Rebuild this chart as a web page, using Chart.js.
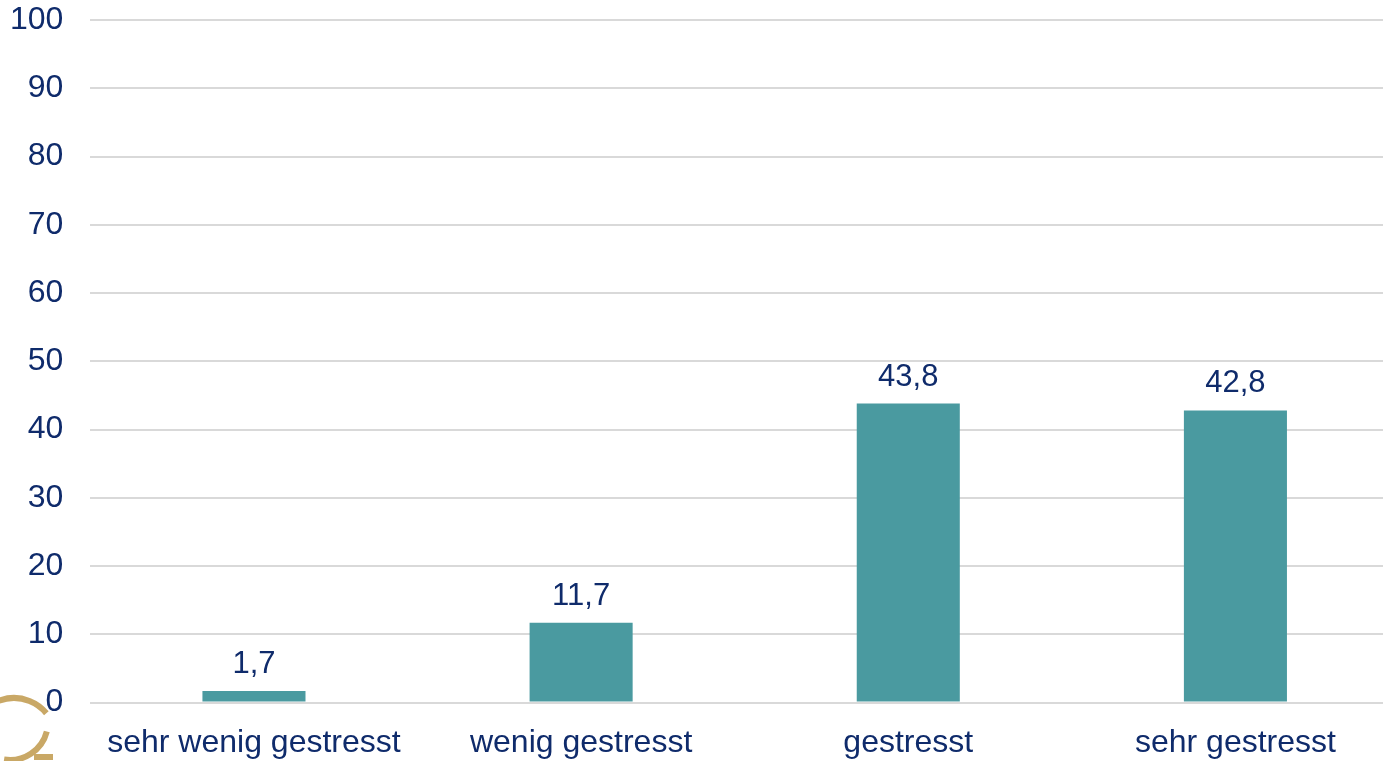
<!DOCTYPE html>
<html>
<head>
<meta charset="utf-8">
<script src="https://cdn.jsdelivr.net/npm/chart.js@4/dist/chart.umd.min.js"></script>
<style>
    html, body { margin: 0; padding: 0; background: #ffffff; overflow: hidden; }
    #frame { width: 1383px; height: 761px; overflow: hidden; }
    /* plot runs a little past the right edge of the frame */
    #wrap { width: 1399px; height: 761px; position: relative; }
</style>
</head>
<body>
<div id="frame"><div id="wrap"><canvas id="stressChart"></canvas></div></div>
<script>
// stress levels (percent of respondents)
const categories = ['sehr wenig gestresst', 'wenig gestresst', 'gestresst', 'sehr gestresst'];
const percentValues = [1.7, 11.7, 43.8, 42.8];
const yTicks = [0, 10, 20, 30, 40, 50, 60, 70, 80, 90, 100];

const NAVY = '#0f2b6b';
const TEAL = '#4a9aa0';
const FONT = "'Liberation Sans', Arial, sans-serif";

// draw the value above each bar, German decimal comma
const valueLabels = {
    id: 'valueLabels',
    afterDatasetsDraw(chart) {
        const ctx = chart.ctx;
        const meta = chart.getDatasetMeta(0);
        ctx.save();
        ctx.font = '31px ' + FONT;
        ctx.fillStyle = NAVY;
        ctx.textAlign = 'center';
        ctx.textBaseline = 'alphabetic';
        meta.data.forEach((bar, i) => {
            const txt = percentValues[i].toFixed(1).replace('.', ',');
            ctx.fillText(txt, bar.x, bar.y - 18);
        });
        ctx.restore();
    }
};

// gold corner logo fragment
const cornerLogo = {
    id: 'cornerLogo',
    beforeDraw(chart) {
        const ctx = chart.ctx;
        ctx.save();
        ctx.strokeStyle = '#c9a866';
        ctx.lineWidth = 6;
        ctx.lineCap = 'butt';
        ctx.beginPath();
        ctx.arc(14, 740, 42, Math.PI * 1.12, Math.PI * 1.78);
        ctx.stroke();
        ctx.beginPath();
        ctx.arc(10, 722, 38, Math.PI * 0.08, Math.PI * 0.55);
        ctx.stroke();
        ctx.beginPath();
        ctx.moveTo(34, 757);
        ctx.lineTo(53, 757);
        ctx.stroke();
        ctx.restore();
    }
};

new Chart(document.getElementById('stressChart'), {
    type: 'bar',
    data: {
        labels: categories,
        datasets: [{
            data: percentValues,
            backgroundColor: TEAL,
            borderWidth: 0,
            categoryPercentage: 1.0,
            barPercentage: 0.315
        }]
    },
    options: {
        responsive: true,
        maintainAspectRatio: false,
        animation: false,
        layout: { padding: { top: 20, left: -17, right: 0, bottom: -22 } },
        plugins: {
            legend: { display: false },
            tooltip: { enabled: false }
        },
        scales: {
            x: {
                grid: { display: false, drawTicks: false },
                border: { display: false },
                ticks: {
                    color: NAVY,
                    font: { family: FONT, size: 32 },
                    padding: 21,
                    maxRotation: 0,
                    autoSkip: false
                }
            },
            y: {
                min: 0,
                max: 100,
                afterBuildTicks(axis) {
                    axis.ticks = yTicks.map(v => ({ value: v }));
                },
                afterFit(axis) {
                    axis.paddingTop = 0;
                },
                grid: { color: '#d9d9d9', lineWidth: 2, drawTicks: false },
                border: { display: false },
                ticks: {
                    color: NAVY,
                    font: { family: FONT, size: 32 },
                    padding: 27
                }
            }
        }
    },
    plugins: [valueLabels, cornerLogo]
});
</script>
</body>
</html>
